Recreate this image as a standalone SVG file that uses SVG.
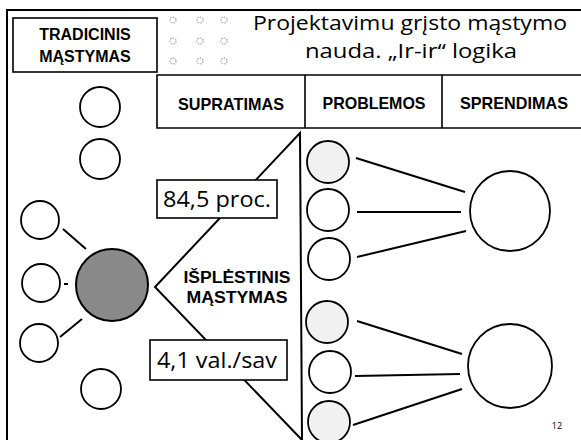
<svg xmlns="http://www.w3.org/2000/svg" width="581" height="440" viewBox="0 0 581 440">
<style>
.frame{fill:none;stroke:#000;stroke-width:2}
.c{fill:#fff;stroke:#000;stroke-width:1.8}
.cs{fill:#f1f1f1;stroke:#000;stroke-width:1.8}
.cg{fill:#8a8a8a;stroke:#000;stroke-width:2}
.ln{stroke:#000;stroke-width:2;fill:none}
.box{fill:#fff;stroke:#000;stroke-width:1.6}
.hb{font-family:"Liberation Sans",Arial,sans-serif;font-weight:bold;font-size:16px;text-anchor:middle;fill:#000}
.reg{font-family:"Open Sans","Liberation Sans",sans-serif;fill:#000}
.dot{fill:none;stroke:#a8a8a8;stroke-width:1.3;stroke-dasharray:1.5 1.2}
</style>
<rect width="581" height="440" fill="#fff"/>
<path class="frame" d="M7,440 V10 H581"/>

<g id="title">
<text class="reg" x="253" y="30" font-size="20" textLength="314" lengthAdjust="spacingAndGlyphs">Projektavimu grįsto mąstymo</text>
<text class="reg" x="305" y="58" font-size="20" textLength="212" lengthAdjust="spacingAndGlyphs">nauda. „Ir-ir“ logika</text>
</g>

<g id="dots">
<circle class="dot" cx="173" cy="20" r="3"/><circle class="dot" cx="200" cy="20" r="3"/><circle class="dot" cx="224" cy="20" r="3"/>
<circle class="dot" cx="173" cy="41" r="3"/><circle class="dot" cx="200" cy="41" r="3"/><circle class="dot" cx="224" cy="41" r="3"/>
<circle class="dot" cx="173" cy="61" r="3"/><circle class="dot" cx="200" cy="61" r="3"/><circle class="dot" cx="224" cy="61" r="3"/>
</g>

<g id="tradicinis">
<rect class="box" x="13" y="18" width="144" height="54"/>
<text class="hb" x="85" y="40">TRADICINIS</text>
<text class="hb" x="85" y="62">MĄSTYMAS</text>
</g>

<g id="header">
<path class="ln" style="stroke-width:1.6" d="M581,75 H157 V128 H581 M305,75 V128 M442,75 V128"/>
<text class="hb" x="231" y="110" style="font-size:17px" textLength="106" lengthAdjust="spacingAndGlyphs">SUPRATIMAS</text>
<text class="hb" x="374" y="109" style="font-size:17px" textLength="103" lengthAdjust="spacingAndGlyphs">PROBLEMOS</text>
<text class="hb" x="514" y="109" style="font-size:17px" textLength="108" lengthAdjust="spacingAndGlyphs">SPRENDIMAS</text>
</g>

<g id="connectors">
<line class="ln" x1="63" y1="229" x2="86" y2="249"/>
<line class="ln" x1="64" y1="284" x2="68" y2="284"/>
<line class="ln" x1="60" y1="337" x2="82" y2="319"/>
<path class="ln" d="M302,440 L155,287 L300,133 L302,440"/>
<line class="ln" x1="356" y1="158" x2="465" y2="192"/>
<line class="ln" x1="357" y1="212" x2="461" y2="212"/>
<line class="ln" x1="357" y1="257" x2="466" y2="231"/>
<line class="ln" x1="357" y1="321" x2="462" y2="354"/>
<line class="ln" x1="355" y1="376" x2="460" y2="374"/>
<line class="ln" x1="353" y1="425" x2="462" y2="389"/>
</g>

<g id="left-circles">
<circle class="c" cx="100" cy="107" r="20"/>
<circle class="c" cx="100" cy="159" r="20"/>
<circle class="c" cx="40" cy="220" r="19"/>
<circle class="c" cx="41" cy="283" r="19"/>
<circle class="c" cx="39" cy="343" r="19"/>
<circle class="c" cx="101" cy="389" r="20"/>
</g>
<g id="grey-circle"><circle class="cg" cx="112" cy="285" r="36"/></g>

<g id="label-845">
<rect class="box" x="157" y="180" width="120" height="38"/>
<text class="reg" x="217" y="207" font-size="22" text-anchor="middle" textLength="108" lengthAdjust="spacingAndGlyphs">84,5 proc.</text>
</g>
<g id="label-41">
<rect class="box" x="150" y="340" width="137" height="40"/>
<text class="reg" x="217" y="368" font-size="22" text-anchor="middle" textLength="120" lengthAdjust="spacingAndGlyphs">4,1 val./sav</text>
</g>
<g id="isplestinis">
<text class="hb" x="237" y="283" textLength="107" lengthAdjust="spacingAndGlyphs">IŠPLĖSTINIS</text>
<text class="hb" x="237" y="303" textLength="101" lengthAdjust="spacingAndGlyphs">MĄSTYMAS</text>
</g>

<g id="problem-circles">
<circle class="cs" cx="328" cy="162" r="21"/>
<circle class="c" cx="328" cy="210" r="21"/>
<circle class="c" cx="329" cy="259" r="21"/>
<circle class="cs" cx="327" cy="322" r="21"/>
<circle class="c" cx="330" cy="372" r="21"/>
<circle class="cs" cx="329" cy="422" r="21"/>
</g>
<g id="solution-circles">
<circle class="c" cx="510" cy="211" r="40"/>
<circle class="c" cx="510" cy="366" r="42"/>
</g>
<text class="reg" x="557" y="429" font-size="9" text-anchor="middle">12</text>
</svg>
